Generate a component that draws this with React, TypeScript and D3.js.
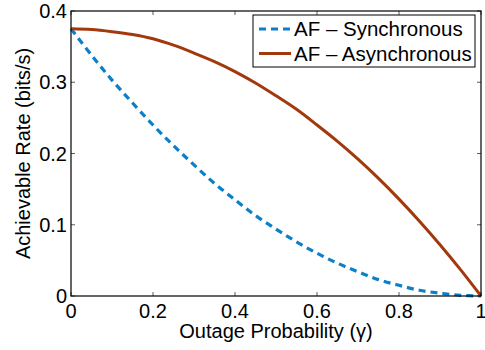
import * as d3 from 'd3'

const WIDTH = 485
const HEIGHT = 350
const MARGIN = {top: 11, right: 4, bottom: 54, left: 71}

// outage probability grid
const gammas = [0, 0.05, 0.1, 0.15, 0.2, 0.25, 0.3, 0.35, 0.4, 0.45, 0.5, 0.55, 0.6, 0.65, 0.7, 0.75, 0.8, 0.85, 0.9, 0.95, 1]
// AF - Synchronous
const syncRate = [0.375, 0.338, 0.303, 0.271, 0.24, 0.211, 0.184, 0.158, 0.135, 0.113, 0.094, 0.076, 0.06, 0.046, 0.034, 0.023, 0.015, 0.008, 0.004, 0.001, 0]
// AF - Asynchronous
const asyncRate = [0.375, 0.374, 0.371, 0.367, 0.361, 0.352, 0.341, 0.329, 0.315, 0.299, 0.281, 0.262, 0.24, 0.217, 0.192, 0.165, 0.136, 0.105, 0.072, 0.037, 0]

const xTicks = [0, 0.2, 0.4, 0.6, 0.8, 1]
const yTicks = [0, 0.1, 0.2, 0.3, 0.4]

const BLUE = '#0b80c8'
const BROWN = '#a2390d'
const FONT = 'Liberation Sans, Arial, Helvetica, sans-serif'

export default function App() {
  const boundsWidth = WIDTH - MARGIN.left - MARGIN.right
  const boundsHeight = HEIGHT - MARGIN.top - MARGIN.bottom

  const xScale = d3.scaleLinear().domain([0, 1]).range([0, boundsWidth])
  const yScale = d3.scaleLinear().domain([0, 0.4]).range([boundsHeight, 0])

  const line = d3
    .line<number>()
    .x((_, i) => xScale(gammas[i]))
    .y(d => yScale(d))
    .curve(d3.curveCatmullRom)

  const TICK = 4

  return (
    <svg
      width={WIDTH}
      height={HEIGHT}
      style={{position: 'absolute', left: 0, top: 0, background: '#fff'}}
      fontFamily={FONT}>
      <g transform={`translate(${MARGIN.left},${MARGIN.top})`}>
        {/* ticks, inside, on all four sides */}
        {xTicks.map(t => (
          <g key={'x' + t}>
            <line x1={xScale(t)} x2={xScale(t)} y1={boundsHeight} y2={boundsHeight - TICK} stroke="#333" strokeWidth={0.8} />
            <line x1={xScale(t)} x2={xScale(t)} y1={0} y2={TICK} stroke="#333" strokeWidth={0.8} />
            <text x={xScale(t)} y={boundsHeight + 22} textAnchor="middle" fontSize={20}>
              {t}
            </text>
          </g>
        ))}
        {yTicks.map(t => (
          <g key={'y' + t}>
            <line x1={0} x2={TICK} y1={yScale(t)} y2={yScale(t)} stroke="#333" strokeWidth={0.8} />
            <line x1={boundsWidth} x2={boundsWidth - TICK} y1={yScale(t)} y2={yScale(t)} stroke="#333" strokeWidth={0.8} />
            <text x={-4} y={yScale(t)} dy="0.35em" textAnchor="end" fontSize={20}>
              {t}
            </text>
          </g>
        ))}

        <path d={line(syncRate) ?? ''} fill="none" stroke={BLUE} strokeWidth={3.2} strokeDasharray="7,5" />
        <path d={line(asyncRate) ?? ''} fill="none" stroke={BROWN} strokeWidth={3} />

        <rect x={0} y={0} width={boundsWidth} height={boundsHeight} fill="none" stroke="#000" strokeWidth={1.2} />

        {/* legend */}
        <g transform={`translate(${253 - MARGIN.left},${15 - MARGIN.top})`}>
          <rect x={0} y={0} width={222} height={52} fill="#fff" stroke="#000" strokeWidth={1} />
          <line x1={6} x2={37} y1={14} y2={14} stroke={BLUE} strokeWidth={3.2} strokeDasharray="7,5" />
          <text x={41} y={14} dy="0.35em" fontSize={20.5}>
            AF – Synchronous
          </text>
          <line x1={6} x2={38} y1={38.5} y2={38.5} stroke={BROWN} strokeWidth={3} />
          <text x={41} y={38.5} dy="0.35em" fontSize={20.5}>
            AF – Asynchronous
          </text>
        </g>

        <text x={boundsWidth / 2} y={boundsHeight + 42} textAnchor="middle" fontSize={20}>
          Outage Probability (γ)
        </text>
        <text
          transform={`translate(${30 - MARGIN.left},${boundsHeight / 2}) rotate(-90)`}
          textAnchor="middle"
          fontSize={20}>
          Achievable Rate (bits/s)
        </text>
      </g>
    </svg>
  )
}
